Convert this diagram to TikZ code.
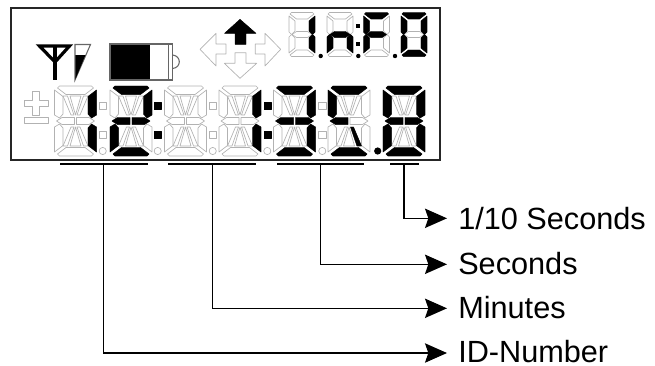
\documentclass[tikz,border=0pt]{standalone}
\usepackage{fontspec}
\setmainfont{Liberation Sans}
\usetikzlibrary{arrows.meta}
% large 14-segment digit (43 x 72)
\def\bsA{(5.5,1)--(37.5,1)--(39.5,3)--(31,9.5)--(12,9.5)--(3.5,3)--cycle}
\def\bsD{(5.5,71)--(37.5,71)--(39.5,69)--(31,62.5)--(12,62.5)--(3.5,69)--cycle}
\def\bsF{(0.5,5)--(9,11.5)--(9,29)--(5.5,33)--(0.5,30)--cycle}
\def\bsB{(42.5,5)--(34,11.5)--(34,29)--(37.5,33)--(42.5,30)--cycle}
\def\bsE{(0.5,67)--(9,60.5)--(9,43)--(5.5,39)--(0.5,42)--cycle}
\def\bsC{(42.5,67)--(34,60.5)--(34,43)--(37.5,39)--(42.5,42)--cycle}
\def\bsP{(2.5,36)--(8,32.5)--(20.5,32.5)--(20.5,39.5)--(8,39.5)--cycle}
\def\bsQ{(40.5,36)--(35,32.5)--(22.5,32.5)--(22.5,39.5)--(35,39.5)--cycle}
\def\bsH{(20,30)--(17,30)--(9,11)--(13.5,11)--cycle}
\def\bsI{(21.5,30)--(16,11)--(27,11)--cycle}
\def\bsK{(23,30)--(26,30)--(34,11)--(29.5,11)--cycle}
\def\bsJ{(20,42)--(17,42)--(9,61)--(13.5,61)--cycle}
\def\bsM{(21.5,42)--(16,61)--(27,61)--cycle}
\def\bsL{(23,42)--(26,42)--(34,61)--(29.5,61)--cycle}
\def\bsnone{(0,0)}
% small 7-segment digit (27 x 45)
\def\ssA{(3,0.5)--(24,0.5)--(25.5,2)--(19,7)--(8,7)--(1.5,2)--cycle}
\def\ssD{(3,44.5)--(24,44.5)--(25.5,43)--(19,38)--(8,38)--(1.5,43)--cycle}
\def\ssF{(0.5,4)--(6.5,9)--(6.5,19)--(3,22.5)--(0.5,20)--cycle}
\def\ssB{(26.5,4)--(20.5,9)--(20.5,19)--(24,22.5)--(26.5,20)--cycle}
\def\ssE{(0.5,41)--(6.5,36)--(6.5,26)--(3,22.5)--(0.5,25)--cycle}
\def\ssC{(26.5,41)--(20.5,36)--(20.5,26)--(24,22.5)--(26.5,25)--cycle}
\def\ssG{(3.5,22.5)--(8,19.5)--(19,19.5)--(23.5,22.5)--(19,25.5)--(8,25.5)--cycle}
\newcommand{\bigdigit}[3]{%
  \begin{scope}[shift={(#1,#2)}]
    \foreach \s in {A,B,C,D,E,F,H,I,J,K,L,M,P,Q}{%
      \expandafter\let\expandafter\curseg\csname bs\s\endcsname
      \draw[unlit] \curseg;}
    \foreach \s in {#3}{%
      \expandafter\let\expandafter\curseg\csname bs\s\endcsname
      \fill[lit] \curseg;}
  \end{scope}}
\newcommand{\smalldigit}[3]{%
  \begin{scope}[shift={(#1,#2)}]
    \foreach \s in {A,B,C,D,E,F,G}{%
      \expandafter\let\expandafter\curseg\csname ss\s\endcsname
      \draw[unlit] \curseg;}
    \foreach \s in {#3}{%
      \expandafter\let\expandafter\curseg\csname ss\s\endcsname
      \fill[lit] \curseg;}
  \end{scope}}
% colon of two squares; #1 x, #2 style
\newcommand{\colonsq}[2]{%
  \draw[#2] (#1-3.6,102.4) rectangle (#1+3.6,109.6);
  \draw[#2] (#1-3.6,131.4) rectangle (#1+3.6,138.6);}
\tikzset{
  unlit/.style={draw=black!30,line width=0.5pt,fill=white,line join=round},
  lit/.style={fill=black,draw=black,line width=0.3pt,line join=round},
  frame/.style={draw=black!85,line width=1.5pt},
  bar/.style={draw=black,line width=1pt},
  conn/.style={draw=black,line width=1pt,-{Stealth[length=16.5pt,width=14.5pt,inset=2.5pt]}},
  lab/.style={font=\fontsize{23}{23}\selectfont,anchor=base west,inner sep=0pt},
  darkline/.style={draw=black!60,line width=0.8pt},
}
\begin{document}
\begin{tikzpicture}[x=0.75pt,y=-0.75pt]
\useasboundingbox (0,0) rectangle (655,365);
\draw[frame] (10.5,8) rectangle (440,160);
% antenna
\draw[draw=black,line width=2.4pt,line join=miter] (39.5,46) -- (69.5,46) -- (55,62) -- cycle;
\draw[draw=black,line width=2.8pt] (55,46) -- (55,80);
% signal
\draw[darkline] (75,44.5) -- (90.5,44.5) -- (75,80) -- cycle;
\fill[black] (75.3,55) -- (85.5,55) -- (75.3,79.5) -- cycle;
% battery
\fill[black] (110,44) rectangle (150,80);
\draw[darkline] (110,44) rectangle (172.7,80);
\draw[darkline] (168.3,44) -- (168.3,80);
\draw[darkline] (172.7,55) .. controls (181.5,56) and (181.5,67.5) .. (172.7,68.5);
% plus and minus
\draw[unlit] (32.7,91.7) -- (39.3,91.7) -- (39.3,100) -- (48.3,100) -- (48.3,106.5) -- (39.3,106.5) -- (39.3,115) -- (32.7,115) -- (32.7,106.5) -- (24,106.5) -- (24,100) -- (32.7,100) -- cycle;
\draw[unlit] (24,117.7) rectangle (48.3,123.7);
% direction arrows
\fill[lit] (240,19.3) -- (256,33.3) -- (246,33.3) -- (246,44.3) -- (235,44.3) -- (235,33.3) -- (224.5,33.3) -- cycle;
\draw[unlit] (240,78.3) -- (256.7,63.3) -- (246,63.3) -- (246,52.7) -- (235,52.7) -- (235,63.3) -- (224.3,63.3) -- cycle;
\draw[unlit] (200,49.3) -- (216,33.3) -- (216,44) -- (226,44) -- (226,54) -- (216,54) -- (216,66) -- cycle;
\draw[unlit] (280.7,49.3) -- (265,33.3) -- (265,44) -- (255.3,44) -- (255.3,54) -- (265,54) -- (265,66) -- cycle;
% small digits
\smalldigit{288.5}{12}{B,C}
\smalldigit{326.5}{12}{E,G,C}
\smalldigit{363}{12}{A,F,G,E}
\smalldigit{400.5}{12}{A,B,C,D,E,F}
\fill[black] (320.7,56) circle (2.2);
\fill[black] (358.3,56) circle (2.2);
\fill[black] (395,56) circle (2.2);
\fill[black] (356.2,23.7) rectangle (360.4,27.9);
\fill[black] (356.2,41.6) rectangle (360.4,45.8);
% large digits
\bigdigit{54}{85}{B,C}
\bigdigit{109.5}{85}{A,B,P,Q,E,D}
\bigdigit{164}{85}{none}
\bigdigit{218.5}{85}{B,C}
\bigdigit{273}{85}{A,B,C,D,P,Q}
\bigdigit{327.5}{85}{A,F,P,L,D}
\bigdigit{382.5}{85}{A,B,C,D,E,F,P,Q}
% separators
\colonsq{102.7}{unlit}
\colonsq{157.7}{lit}
\colonsq{212.7}{unlit}
\colonsq{267.3}{lit}
\colonsq{322.3}{unlit}
\foreach \cx in {102.7,157.7,212.7,267.3,322.3}{\draw[unlit] (\cx,151) circle (3.6);}
\fill[black] (377.7,151) circle (3.6);
% brackets below the display
\coordinate (idbar) at (103.3,164);
\coordinate (minbar) at (212.3,164);
\coordinate (secbar) at (320.7,164);
\coordinate (tenbar) at (404,164);
\draw[bar] (60,164) -- (147.7,164);
\draw[bar] (168.3,164) -- (256,164);
\draw[bar] (277.3,164) -- (364.3,164);
\draw[bar] (390,164) -- (419,164);
% labels
\node[lab] (ten) at (458,229.3) {1/10 Seconds};
\node[lab] (sec) at (458,274) {Seconds};
\node[lab] (min) at (458,318.3) {Minutes};
\node[lab] (idn) at (458,362) {ID-Number};
\coordinate (tentip) at (447,218.3);
\coordinate (sectip) at (447,264.3);
\coordinate (mintip) at (447,308.3);
\coordinate (idtip) at (447,353);
% connectors
\draw[conn] (tenbar) |- (tentip);
\draw[conn] (secbar) |- (sectip);
\draw[conn] (minbar) |- (mintip);
\draw[conn] (idbar) |- (idtip);
\end{tikzpicture}
\end{document}
